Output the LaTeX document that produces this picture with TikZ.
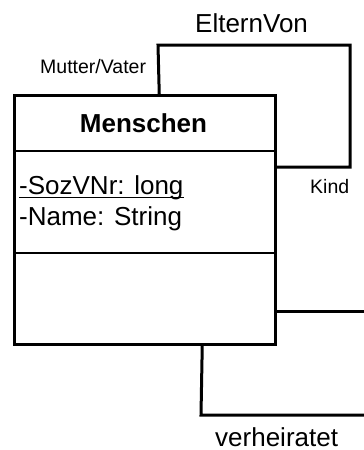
\documentclass[tikz,border=0pt]{standalone}
\usepackage{fontspec}
\setmainfont{Liberation Sans}
\begin{document}
\begin{tikzpicture}[x=1pt,y=-1pt,
  box/.style={draw, line width=2.5pt, minimum width=261pt, minimum height=249pt, inner sep=0pt, anchor=north west},
  divider/.style={line width=1.8pt},
  conn/.style={line width=3pt},
  uline/.style={line width=1.4pt},
  big/.style={inner sep=0pt, font=\fontsize{26}{30}\selectfont},
  small/.style={inner sep=0pt, font=\fontsize{19.5}{23}\selectfont}]
\useasboundingbox (0,0) rectangle (364,450);
\node[box] (cls) at (13,94) {};
\draw[divider] (13,151) -- (274,151);
\draw[divider] (13,253) -- (274,253);
\node[big, anchor=base, font=\fontsize{26}{30}\selectfont\bfseries] (name) at (143.5,132) {Menschen};
\node[big, anchor=base west] (a1) at (19,194) {-SozVNr: long};
\draw[uline] ([yshift=-3.5pt]a1.base west) -- ([yshift=-3.5pt]a1.base east);
\node[big, anchor=base west] (a2) at (19,225) {-Name: String};
% self association
\coordinate (l1) at (158,45);
\coordinate (l2) at (350,45);
\coordinate (l3) at (350,167);
\draw[conn] ([xshift=14.5pt]cls.north) -- (l1) -- (l2) -- (l3) -- (cls.east |- l3);
\node[big, anchor=base west] (ev) at (195,32) {ElternVon};
\node[small, anchor=base west] (mv) at (40,73) {Mutter/Vater};
\node[small, anchor=base west] (kind) at (310,193) {Kind};
% outgoing associations
\coordinate (r1) at (364,311);
\draw[conn] (cls.east |- r1) -- (r1);
\coordinate (b1) at (201,415);
\coordinate (b2) at (364,415);
\draw[conn] ([xshift=57.5pt]cls.south) -- (b1) -- (b2);
\node[big, anchor=base west] (vh) at (215,446) {verheiratet};
\end{tikzpicture}
\end{document}
